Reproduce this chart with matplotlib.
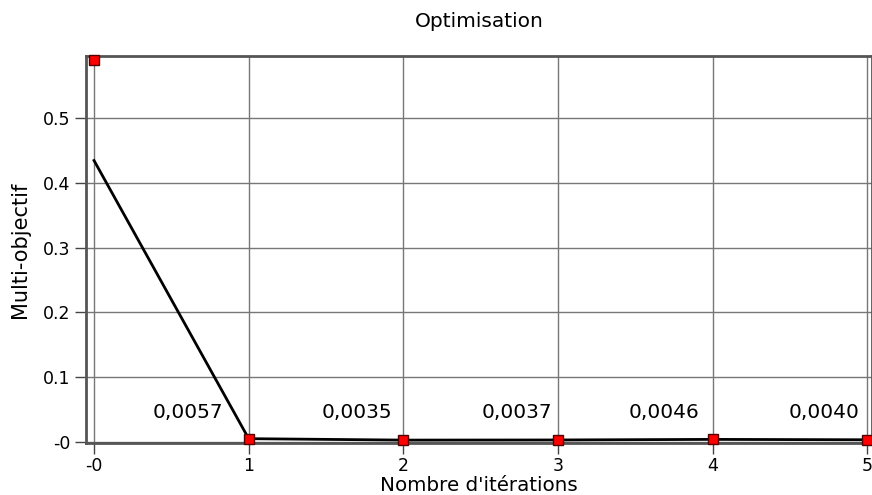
import matplotlib
matplotlib.use("Agg")
import matplotlib.pyplot as plt

# data
iterations = [0, 1, 2, 3, 4, 5]
line_values = [0.434, 0.0057, 0.0035, 0.0037, 0.0046, 0.0040]
marker_values = [0.588, 0.0057, 0.0035, 0.0037, 0.0046, 0.0040]
x_tick_labels = ["-0", "1", "2", "3", "4", "5"]
y_ticks = [0.0, 0.1, 0.2, 0.3, 0.4, 0.5]
y_tick_labels = ["-0", "0.1", "0.2", "0.3", "0.4", "0.5"]

# where the value labels sit (right edge, data coords)
label_right = [0.834, 1.926, 2.96, 3.917, 4.95]

fig = plt.figure(figsize=(8.72, 4.95), dpi=100)
ax = fig.add_axes([0.0986, 0.105, 0.9014, 0.782])

ax.plot(iterations, line_values, color="black", lw=2, zorder=3, clip_on=False)
ax.plot(iterations, marker_values, ls="none", marker="s", markersize=7,
        markerfacecolor="red", markeredgecolor="#550000", markeredgewidth=1,
        zorder=4, clip_on=False)

for xr, v in zip(label_right, line_values[1:]):
    ax.text(xr, 0.046, f"{v:.4f}".replace(".", ","), ha="right", va="center",
            fontsize=14.5, color="black")

ax.set_xlim(-0.052, 5.03)
ax.set_ylim(-0.001, 0.595)
ax.set_xticks(iterations)
ax.set_xticklabels(x_tick_labels)
ax.set_yticks(y_ticks)
ax.set_yticklabels(y_tick_labels)
ax.tick_params(axis="both", labelsize=12.5, length=8, width=1, color="#444444")
ax.tick_params(axis="x", pad=2)

ax.grid(True, color="#777777", lw=1)
ax.set_axisbelow(True)
for s in ax.spines.values():
    s.set_color("#555555")
    s.set_linewidth(2)

ax.set_title("Optimisation", fontsize=14.5, pad=21)
ax.set_xlabel("Nombre d'itérations", fontsize=14.3, labelpad=1)
ax.set_ylabel("Multi-objectif", fontsize=15, labelpad=9)

fig.savefig("out.png", dpi=100)
